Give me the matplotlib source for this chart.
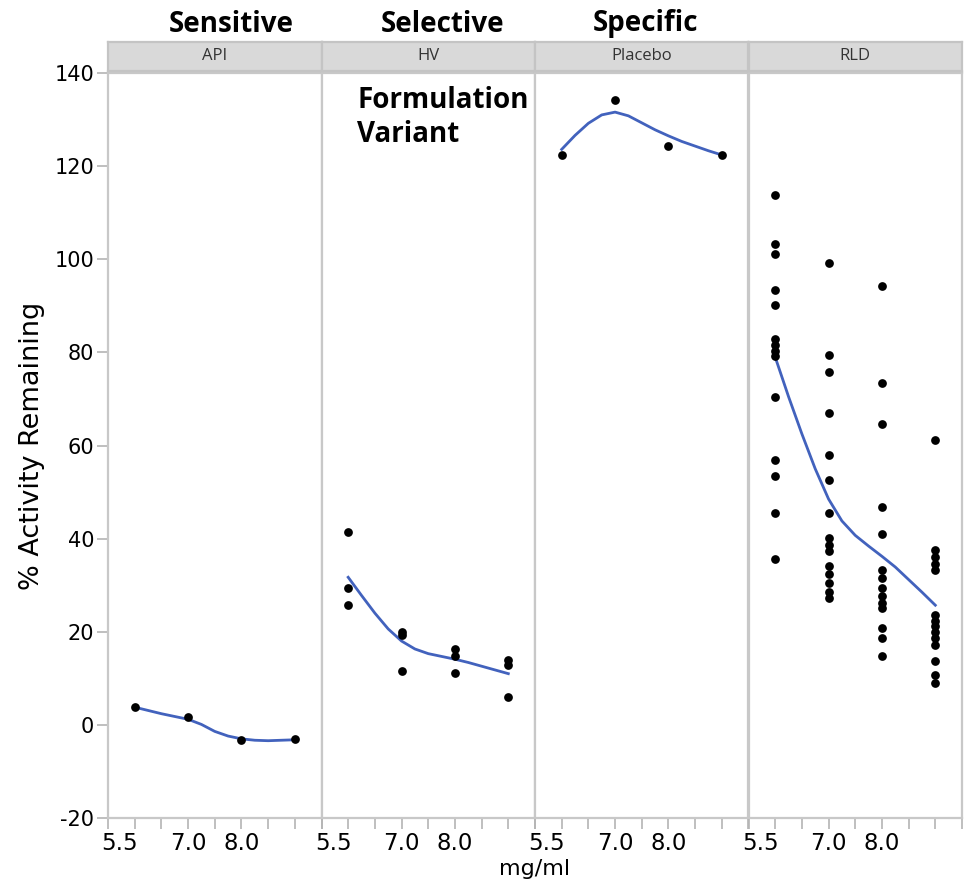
import numpy as np
import matplotlib
matplotlib.use("Agg")
import matplotlib.pyplot as plt
from matplotlib.transforms import ScaledTranslation

# ---------------- data ----------------
panels = ["API", "HV", "Placebo", "RLD"]
x_levels = ["5.5", "7.0", "8.0", ""]
titles = ["Sensitive", "Selective", "Specific"]

api_pts = [[3.8], [1.7], [-3.3], [-3.1]]
hv_pts = [[41.4, 29.5, 25.7], [20.0, 19.4, 11.6], [16.2, 14.8, 11.2], [13.9, 12.9, 6.0]]
placebo_pts = [[122.4], [134.3], [124.3], [122.4]]
rld_pts = [
    [113.8, 103.3, 101.2, 93.3, 90.2, 82.8, 81.5, 80.3, 79.2, 70.4, 56.9, 53.4, 45.6, 35.7],
    [99.1, 79.4, 75.8, 67.0, 58.0, 52.5, 45.6, 40.2, 38.7, 37.3, 34.2, 32.3, 30.5, 28.6, 27.3],
    [94.2, 73.5, 64.6, 46.8, 41.1, 33.2, 31.5, 29.3, 27.6, 26.2, 25.0, 20.7, 18.7, 14.8],
    [61.2, 37.5, 36.0, 34.5, 33.3, 23.6, 22.4, 21.2, 20.0, 18.6, 17.2, 13.7, 10.8, 9.1],
]

# smoother curves at steps of 1/4 level
curve_x = [0, 0.25, 0.5, 0.75, 1, 1.25, 1.5, 1.75, 2, 2.25, 2.5, 2.75, 3]
api_fit = [3.8, 3.1, 2.4, 1.8, 1.2, 0.1, -1.4, -2.4, -3.0, -3.3, -3.4, -3.3, -3.2]
hv_fit = [31.7, 27.8, 24.0, 20.6, 18.0, 16.3, 15.3, 14.7, 14.1, 13.4, 12.6, 11.8, 11.0]
placebo_fit = [123.6, 126.6, 129.2, 131.0, 131.6, 130.8, 129.3, 127.8, 126.5, 125.3, 124.3, 123.3, 122.4]
rld_fit = [79.0, 70.5, 62.5, 55.0, 48.5, 43.8, 40.7, 38.4, 36.2, 33.9, 31.2, 28.5, 25.7]

y_ticks = [-20, 0, 20, 40, 60, 80, 100, 120, 140]

all_pts = [api_pts, hv_pts, placebo_pts, rld_pts]
all_fit = [api_fit, hv_fit, placebo_fit, rld_fit]

# ---------------- layout ----------------
FW, FH = 966, 883
fig = plt.figure(figsize=(FW / 100, FH / 100), dpi=100)

left_px, right_px = 108, 962
top_px, bottom_px = 73, 818
pw = (right_px - left_px) / 4

border_col = "#c8c8c8"
tick_col = "#b4b4b4"
line_col = "#4262bd"
txt_fam = ["DejaVu Sans"]

for i, name in enumerate(panels):
    ax = fig.add_axes([(left_px + i * pw) / FW, 1 - bottom_px / FH,
                       pw / FW, (bottom_px - top_px) / FH])
    pts = all_pts[i]
    for lev, vals in enumerate(pts):
        ax.plot([lev] * len(vals), vals, "o", color="black", markersize=6.3,
                markeredgewidth=0, zorder=3)
    ax.plot(curve_x, all_fit[i], color=line_col, lw=2.0, zorder=2)

    ax.set_xlim(-0.5, 3.5)
    ax.set_ylim(-20, 140)
    for s in ax.spines.values():
        s.set_color(border_col)
        s.set_linewidth(1.6)

    ax.set_xticks(np.arange(-0.5, 3.51, 0.5), minor=True)
    ax.set_xticks([0, 1, 2, 3])
    ax.set_xticklabels(x_levels, family=txt_fam, size=16.5)
    ax.tick_params(axis="x", which="both", length=8, width=1.2, color=tick_col, pad=2)
    lab0 = ax.get_xticklabels()[0]
    lab0.set_transform(lab0.get_transform() + ScaledTranslation(-0.15, 0, fig.dpi_scale_trans))

    if i == 0:
        ax.set_yticks(y_ticks)
        ax.set_yticklabels([str(v) for v in y_ticks], family=txt_fam, size=15)
        ax.tick_params(axis="y", length=8, width=1.2, color=tick_col, pad=2)
        ax.set_ylabel("% Activity Remaining", family=txt_fam, size=19.5, labelpad=7)
    else:
        ax.set_yticks([])

    # strip header
    sx = fig.add_axes([(left_px + i * pw) / FW, 1 - 71 / FH, pw / FW, 29 / FH])
    sx.set_facecolor("#d9d9d9")
    sx.set_xticks([])
    sx.set_yticks([])
    for s in sx.spines.values():
        s.set_color("#c4c4c4")
        s.set_linewidth(1.6)
    sx.text(0.5, 0.5, name, ha="center", va="center", fontsize=12,
            family=["Open Sans", "DejaVu Sans"], color="#333333")

# x label
fig.text(535 / FW, 1 - 869 / FH, "mg/ml", ha="center", va="center",
         family=txt_fam, size=16)

# annotations
bold = dict(family=["Open Sans", "DejaVu Sans"], weight="bold", size=20, color="black")
for t, xc in zip(titles, [231, 443, 646]):
    fig.text(xc / FW, 1 - 24 / FH, t, ha="center", va="center", **bold)
fig.text(357 / FW, 1 - 101 / FH, "Formulation", ha="left", va="center", **bold)
fig.text(357 / FW, 1 - 135 / FH, "Variant", ha="left", va="center", **bold)

fig.savefig("out.png", dpi=100)
